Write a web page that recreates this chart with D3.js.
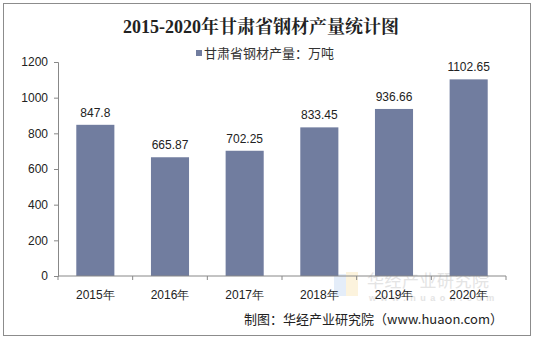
<!DOCTYPE html>
<html><head><meta charset="utf-8">
<script src="https://cdn.jsdelivr.net/npm/d3@7"></script>
<style>body{margin:0;background:#fff}svg{display:block}</style>
</head><body>
<script>
const years = ["2015年","2016年","2017年","2018年","2019年","2020年"];
const output = [847.8, 665.87, 702.25, 833.45, 936.66, 1102.65];
const labels = ["847.8","665.87","702.25","833.45","936.66","1102.65"];
const yTicks = [0,200,400,600,800,1000,1200];

const W = 534, H = 339;
const svg = d3.select("body").append("svg").attr("width", W).attr("height", H);
svg.append("rect").attr("x",3.5).attr("y",3.5).attr("width",527).attr("height",332)
  .attr("fill","#fff").attr("stroke","#8c8c8c");

const m = {l:58, r:506, t:62, b:276};
const x = d3.scaleBand().domain(years).range([m.l, m.r]).paddingInner(0.49).paddingOuter(0.245);
const xb = d3.scaleBand().domain(years).range([m.l, m.r]);
const y = d3.scaleLinear().domain([0,1200]).range([m.b, m.t]);

const font = "Liberation Sans, Arial, sans-serif";
svg.append("text").attr("x",261).attr("y",33).attr("text-anchor","middle")
  .attr("font-family","Liberation Serif, 'Noto Serif CJK SC', serif").attr("font-weight","bold")
  .attr("font-size",18).attr("fill","#222").text("2015-2020年甘肃省钢材产量统计图");

// legend
svg.append("rect").attr("x",196).attr("y",50).attr("width",6).attr("height",6).attr("fill","#717d9f");
svg.append("text").attr("x",204).attr("y",58).attr("font-family","'Noto Sans CJK SC', sans-serif")
  .attr("font-size",13).attr("fill","#333").text("甘肃省钢材产量：万吨");

// watermark
svg.append("rect").attr("x",334).attr("y",274).attr("width",12).attr("height",22).attr("fill","#dde8f8").attr("opacity",0.8);
svg.append("rect").attr("x",346).attr("y",272).attr("width",12).attr("height",24).attr("fill","#fbf0d4").attr("opacity",0.8);
svg.append("text").attr("x",367).attr("y",287).attr("font-family","'Noto Sans CJK SC', sans-serif")
  .attr("font-size",17).attr("fill","#e4e4e4").attr("letter-spacing",0.5).text("华经产业研究院");
svg.append("text").attr("x",369).attr("y",301).attr("font-family",font).attr("font-weight","bold")
  .attr("font-size",9).attr("fill","#e4e4e4").attr("letter-spacing",4.5).text("www.huaon.com");

// bars
svg.selectAll("rect.bar").data(output).join("rect").attr("class","bar")
  .attr("x",(d,i)=>x(years[i])).attr("width",x.bandwidth())
  .attr("y",d=>y(d)).attr("height",d=>y(0)-y(d)).attr("fill","#717d9f");

svg.selectAll("text.val").data(output).join("text").attr("class","val")
  .attr("x",(d,i)=>x(years[i])+x.bandwidth()/2).attr("y",d=>y(d)-8)
  .attr("text-anchor","middle").attr("font-family",font).attr("font-size",12).attr("fill","#222")
  .text((d,i)=>labels[i]);

// y axis
const ya = svg.append("g").attr("transform",`translate(${m.l},0)`)
  .call(d3.axisLeft(y).tickValues(yTicks).tickFormat(d3.format("d")).tickSize(4).tickPadding(6));
ya.select(".domain").attr("stroke","#888");
ya.selectAll(".tick line").attr("stroke","#888");
ya.selectAll("text").attr("font-family",font).attr("font-size",12).attr("fill","#222");

// x axis
const xa = svg.append("g").attr("transform",`translate(0,${m.b})`);
xa.append("line").attr("x1",m.l).attr("x2",m.r).attr("stroke","#888");
xa.selectAll("line.tk").data(d3.range(7)).join("line").attr("class","tk")
  .attr("x1",i=>m.l+i*xb.step()).attr("x2",i=>m.l+i*xb.step()).attr("y1",0).attr("y2",4).attr("stroke","#888");
xa.selectAll("text").data(years).join("text")
  .attr("x",d=>xb(d)+xb.bandwidth()/2).attr("y",23).attr("text-anchor","middle")
  .attr("font-family",font).attr("font-size",12).attr("fill","#222").text(d=>d);

svg.append("text").attr("x",503).attr("y",324).attr("text-anchor","end")
  .attr("font-family","'Noto Sans CJK SC', sans-serif").attr("font-size",13).attr("fill","#222")
  .text("制图：华经产业研究院（www.huaon.com）");
</script>
</body></html>
